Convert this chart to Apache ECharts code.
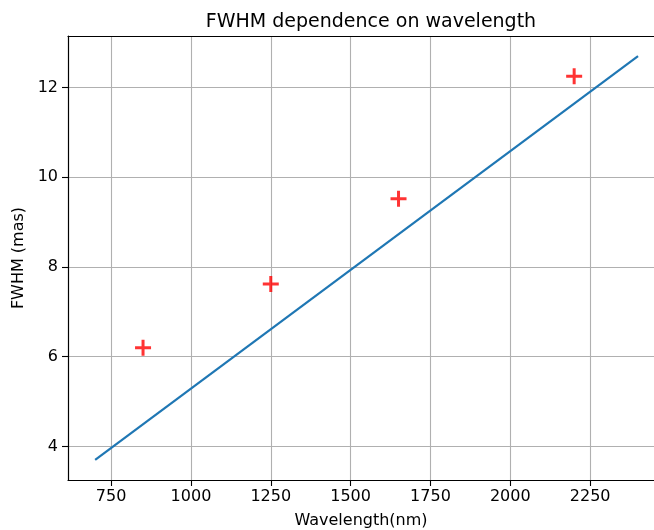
<!DOCTYPE html>
<html><head><meta charset="utf-8">
<script src="https://cdn.jsdelivr.net/npm/echarts@6/dist/echarts.min.js"></script>
<style>html,body{margin:0;padding:0;background:#fff}#c{width:654px;height:530px}</style>
</head><body><div id="c"></div>
<script>
const fitX = [700, 2400];
const fitY = [3.7, 12.7];
const obsX = [850, 1250, 1650, 2200];
const obsY = [6.2, 7.62, 9.52, 12.25];
const xTicks = [750, 1000, 1250, 1500, 1750, 2000, 2250];
const yTicks = [4, 6, 8, 10, 12];

const font = 'DejaVu Sans';
const chart = echarts.init(document.getElementById('c'), null, {renderer: 'canvas'});
chart.setOption({
  animation: false,
  backgroundColor: '#fff',
  title: {text: 'FWHM dependence on wavelength', left: 366, top: 8, textAlign: 'center',
    textStyle: {fontFamily: font, fontSize: 19, fontWeight: 'normal', color: '#000'}},
  grid: {left: 68, top: 36, bottom: 50, right: 0, outerBoundsMode: 'none', containLabel: false},
  xAxis: [{type: 'value', min: 615, max: 2450,
    name: 'Wavelength(nm)', nameLocation: 'middle', nameGap: 33,
    nameTextStyle: {fontFamily: font, fontSize: 16, color: '#000'},
    axisLine: {show: true, onZero: false, lineStyle: {color: '#000', width: 1.2}},
    axisTick: {show: true, length: 6, inside: false, customValues: xTicks, lineStyle: {color: '#000', width: 1.1}},
    axisLabel: {customValues: xTicks, margin: 9, fontFamily: font, fontSize: 16, color: '#000', formatter: v => String(v)},
    splitLine: {show: true, lineStyle: {color: '#b0b0b0', width: 1.1}}},
   {type: 'value', position: 'top', min: 615, max: 2450,
    axisLine: {show: true, onZero: false, lineStyle: {color: '#000', width: 1.2}},
    axisTick: {show: false}, axisLabel: {show: false}, splitLine: {show: false}}],
  yAxis: {type: 'value', min: 3.25, max: 13.15,
    name: 'FWHM (mas)', nameLocation: 'middle', nameGap: 36, nameRotate: 90,
    nameTextStyle: {fontFamily: font, fontSize: 16, color: '#000'},
    axisLine: {show: true, onZero: false, lineStyle: {color: '#000', width: 1.2}},
    axisTick: {show: true, length: 6, inside: false, customValues: yTicks, lineStyle: {color: '#000', width: 1.1}},
    axisLabel: {customValues: yTicks, margin: 10, fontFamily: font, fontSize: 16, color: '#000'},
    splitLine: {show: true, lineStyle: {color: '#b0b0b0', width: 1.1}}},
  series: [
    {type: 'line', data: fitX.map((x, i) => [x, fitY[i]]), showSymbol: false, symbol: 'none',
      lineStyle: {color: '#1f77b4', width: 2.2}, z: 2},
    {type: 'scatter', data: obsX.map((x, i) => [x, obsY[i]]),
      symbol: 'path://M6.5,0H9.5V6.5H16V9.5H9.5V16H6.5V9.5H0V6.5H6.5Z', symbolSize: 16,
      itemStyle: {color: '#ff0000'}, z: 3}
  ]
});
</script></body></html>
